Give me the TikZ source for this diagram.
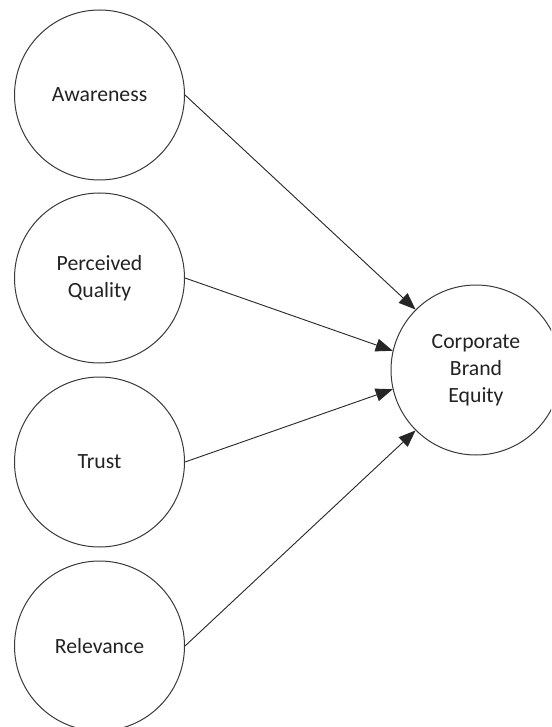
\documentclass[tikz,border=0pt]{standalone}
\usepackage{fontspec}
\setmainfont{Carlito}
\usetikzlibrary{arrows.meta}
\definecolor{txtgray}{HTML}{222222}
\definecolor{linegray}{HTML}{3A3A3A}
\tikzset{
  construct/.style={circle, draw=linegray, line width=1pt, minimum size=170pt, inner sep=0pt,
    align=center, text=txtgray, font=\fontsize{21.7}{27}\selectfont},
  path/.style={draw=black!85, line width=0.9pt, -{Triangle[length=17pt,width=13pt]}, shorten >=0pt}
}
\begin{document}
\begin{tikzpicture}[x=1pt,y=-1pt]
\clip (0,0) rectangle (551,727);
\fill[white] (0,0) rectangle (551,727);
\node[construct] (aw) at (99.5,95) {Awareness};
\node[construct] (pq) at (99.5,278) {Perceived\\Quality};
\node[construct] (tr) at (99.5,462) {Trust};
\node[construct] (re) at (99.5,646) {Relevance};
\node[construct] (cbe) at (476,370) {Corporate\\Brand\\Equity};
\draw[path] (aw.east) -- (cbe.135);
\draw[path] (pq.east) -- (cbe.167);
\draw[path] (tr.east) -- (cbe.193);
\draw[path] (re.east) -- (cbe.225);
\end{tikzpicture}
\end{document}
